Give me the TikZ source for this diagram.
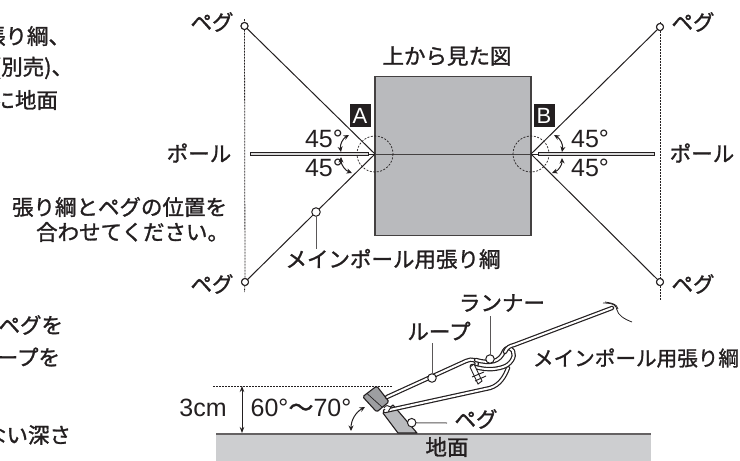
\documentclass[tikz,border=0pt]{standalone}
\usepackage{fontspec}
\setmainfont{Liberation Sans}
\newfontfamily\jp[FakeBold=1.3]{Noto Sans CJK JP}
\usetikzlibrary{arrows.meta}
\definecolor{tentgray}{HTML}{B9BABD}
\definecolor{groundgray}{HTML}{CDCED0}
\definecolor{inkc}{HTML}{231F20}
\tikzset{
  x=1pt,y=-1pt,
  every node/.style={text=inkc,inner sep=0pt,outer sep=0pt},
  jl/.style={font=\jp\fontsize{21.5}{21.5}\selectfont},
  jlsmall/.style={font=\jp\fontsize{20.6}{20.6}\selectfont},
  ll/.style={font=\fontsize{25}{25}\selectfont},
  rope/.style={draw=inkc,line width=1pt},
  guide/.style={draw=inkc,line width=0.8pt,dash pattern=on 2pt off 1pt},
  ring/.style={circle,draw=inkc,fill=white,line width=1pt,minimum size=7pt},
  bigring/.style={circle,draw=inkc,fill=white,line width=1pt,minimum size=8.5pt},
  leader/.style={draw=inkc!75,line width=1pt},
  angarrow/.style={draw=inkc,line width=1pt,{Stealth[length=5.5pt,width=5pt]}-{Stealth[length=5.5pt,width=5pt]}},
  focus/.style={draw=inkc,line width=0.7pt,dash pattern=on 2pt off 1.5pt},
  tagbox/.style={fill=inkc,text=white,minimum width=21pt,minimum height=23pt,font=\fontsize{22}{22}\selectfont},
  polebar/.style={draw=inkc,line width=3.4pt},
  polecore/.style={draw=white!70!gray,line width=1.2pt},
  doublerope/.style={line width=4.4pt,draw=inkc,line cap=round,line join=round},
  ropecore/.style={line width=2pt,draw=white,line cap=round,line join=round},
}
\begin{document}
\begin{tikzpicture}
\useasboundingbox (0,0) rectangle (740,461);
% coordinates
\coordinate (A) at (375,154);
\coordinate (B) at (531,154);
\coordinate (pl) at (250,154);
\coordinate (plend) at (369,154);
\coordinate (pr) at (655,154);
\coordinate (prend) at (538,154);
% left fragments
\node[jl,anchor=east] (t1) at (70,36) {張り綱、};
\node[jl,anchor=east] (t2) at (73,68) {(別売)、};
\node[jl,anchor=east] (t3) at (58,100) {に地面};
\node[jl,anchor=east] (t4) at (63,325) {とペグを};
\node[jl,anchor=east] (t5) at (60,357) {ループを};
\node[jl,anchor=east] (t6) at (71,435) {ない深さ};
% top view
\node[draw=inkc!85,line width=1.4pt,fill=tentgray,minimum width=156pt,minimum height=159pt,anchor=north west] (tent) at (375,76.5) {};
\draw[draw=inkc!85,line width=1pt] (A) -- (B);
\node[jl] (title) at (447,56) {上から見た図};
\node[tagbox] (ta) at (360,115.5) {A};
\node[tagbox] (tb) at (544,115.5) {B};
\node[ring] (p1) at (244.5,26) {};
\node[ring] (p2) at (660,27) {};
\node[ring] (p3) at (245,282) {};
\node[ring] (p4) at (660,282) {};
\coordinate (g1a) at (244.5,19);
\coordinate (g1b) at (244.5,292);
\coordinate (g2a) at (660,22);
\coordinate (g2b) at (660,300);
\draw[guide] (g1a) -- (p1) -- (p3) -- (g1b);
\draw[guide] (g2a) -- (p2) -- (p4) -- (g2b);
\draw[rope] (p1) -- (A) -- (p3);
\draw[rope] (p2) -- (B) -- (p4);
\draw[focus] (A) circle (18);
\draw[focus] (B) circle (18);
\draw[polebar] (pl) -- (plend);
\draw[polecore] (251,154) -- (368,154);
\draw[polebar] (prend) -- (pr);
\draw[polecore] (539,154) -- (654,154);
\draw[rope] (plend) -- (A);
\draw[rope] (prend) -- (B);
\node[ring] (p1b) at (244.5,26) {};
\node[ring] (p2b) at (660,27) {};
\node[ring] (p3b) at (245,282) {};
\node[ring] (p4b) at (660,282) {};
\node[ll] (a1) at (324,139) {45°};
\node[ll] (a2) at (324,168) {45°};
\node[ll] (a3) at (590,139) {45°};
\node[ll] (a4) at (590,168) {45°};
\coordinate (aa1) at (349,135); \coordinate (aa2) at (341,152);
\coordinate (ab1) at (341,157); \coordinate (ab2) at (352,173);
\coordinate (ac1) at (554,135); \coordinate (ac2) at (562,152);
\coordinate (ad1) at (562,158); \coordinate (ad2) at (552,173);
\draw[angarrow] (aa1) to[bend right=35] (aa2);
\draw[angarrow] (ab1) to[bend right=35] (ab2);
\draw[angarrow] (ac1) to[bend left=35] (ac2);
\draw[angarrow] (ad1) to[bend left=35] (ad2);
\node[jl] (pg1) at (212,22) {ペグ};
\node[jl] (pg2) at (693,22) {ペグ};
\node[jl] (pg3) at (212,284) {ペグ};
\node[jl] (pg4) at (693,284) {ペグ};
\node[jl] (po1) at (199,153) {ポール};
\node[jl] (po2) at (702,153) {ポール};
\node[jl,anchor=east] (n1) at (227,207) {張り綱とペグの位置を};
\node[jl,anchor=east] (n2) at (229,232) {合わせてください。};
\node[jl] (mp) at (393,259) {メインポール用張り綱};
\node[bigring] (mr) at (316,212) {};
\draw[leader] (mr) -- (mp.north -| mr);
% ground
\node[fill=groundgray,minimum width=435pt,minimum height=28pt,anchor=north west] (ground) at (216,433) {};
\coordinate (gl) at (216,433.5);
\coordinate (gr) at (651,433.5);
\draw[draw=inkc!70,line width=2pt] (gl) -- (gr);
\node[jl] (gt) at (447,447) {地面};
% dimensions
\coordinate (d1) at (213,386); \coordinate (d2) at (392,386);
\draw[guide,line width=0.6pt] (d1) -- (d2);
\coordinate (h1) at (242,386); \coordinate (h2) at (242,433);
\draw[draw=inkc,line width=0.9pt,{Stealth[length=6pt,width=4.5pt]}-{Stealth[length=6pt,width=4.5pt]}] (h1) -- (h2);
\node[ll] (cm) at (203,408) {3cm};
\node[ll] (deg) at (301,408) {60°{\jp〜}70°};
\coordinate (e1) at (365,407); \coordinate (e2) at (351,431);
\draw[angarrow] (e1) to[bend right=30] (e2);
% peg
\draw[draw=inkc,line width=1.1pt,fill=tentgray,line join=round]
  (383,413) -- (393,405) -- (417,433) -- (398,433) -- cycle;
\draw[draw=inkc,line width=1.1pt,fill=tentgray!85!black,rounded corners=1.5pt]
  (362.7,396.7) -- (376.7,386) -- (389,401.7) -- (376.7,412) -- cycle;
\draw[draw=inkc,line width=0.7pt] (367,393.5) -- (382,407);
% ropes
\def\looppath{(387,397) -- (466,361) .. controls (472,358) and (479,360) .. (476,366)}
\def\lowerpath{(385,411) -- (490,388) .. controls (500,385) and (505,376) .. (508,368)}
\draw[doublerope] \looppath; \draw[ropecore] \looppath;
\draw[doublerope] \lowerpath; \draw[ropecore] \lowerpath;
\def\runnerpath{(476,360) .. controls (490,364) and (500,362) .. (504,351) .. controls (506,347) and (510,347) .. (513,351) .. controls (516,357) and (510,365) .. (503,367) .. controls (494,370) and (484,370) .. (472,366)}
\draw[doublerope] \runnerpath; \draw[ropecore] \runnerpath;
\def\mainpath{(505,352) .. controls (507,347) and (510,346) .. (514,345) -- (612,308)}
\draw[doublerope] \mainpath; \draw[ropecore] \mainpath;
\draw[draw=inkc,line width=0.9pt,fill=white] (470,367) -- (474,364) -- (482,381) -- (478,384) -- cycle;
\draw[draw=inkc,line width=0.9pt] (472,377) -- (484,372) (475,381) -- (486,376);
\draw[draw=inkc,line width=0.9pt,fill=white] (384,408) .. controls (385,405) and (389,405) .. (391,407) -- (388,412);
\draw[rope,line width=0.8pt] (603,303) .. controls (615,303) and (616,306) .. (617,310) .. controls (618,315) and (624,319) .. (632,322);
\draw[rope,line width=0.8pt] (605,302) .. controls (612,303) and (617,304) .. (618,309);
% callouts
\node[ring,minimum size=8.5pt] (lc) at (432,378) {};
\node[ring,minimum size=8.5pt] (rc) at (490,359) {};
\node[ring,minimum size=8.5pt] (pc) at (411.7,422.7) {};
\node[jl] (lp) at (439,331) {ループ};
\node[jl] (rn) at (502,303) {ランナー};
\node[jlsmall] (mp2) at (636,358) {メインポール用張り綱};
\node[jl] (pg5) at (476,419) {ペグ};
\coordinate (lt) at (432,343);
\coordinate (rt) at (490,316);
\coordinate (pt) at (447,423);
\draw[leader] (lc) -- (lt);
\draw[leader] (rc) -- (rt);
\draw[leader] (pc) -- (pt);
\end{tikzpicture}
\end{document}
